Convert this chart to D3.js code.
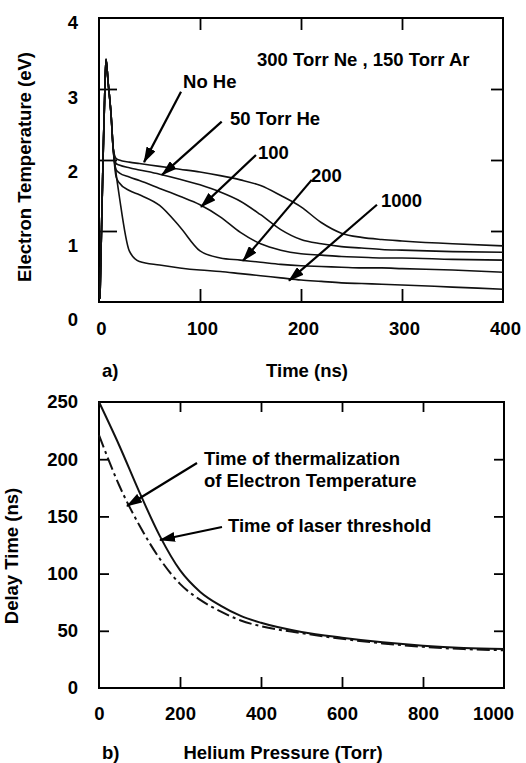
<!DOCTYPE html>
<html><head><meta charset="utf-8">
<script src="https://cdn.jsdelivr.net/npm/d3@7"></script>
<style>
html,body{margin:0;padding:0;background:#fff;}
svg{display:block;}
text{font-family:"Liberation Sans",Arial,Helvetica,sans-serif;font-weight:bold;font-size:18.5px;fill:#000;}
</style></head><body>
<svg id="chart" width="526" height="763"></svg>
<script>
// ---------- Panel a: electron temperature vs time ----------
const timeNs   = [1,4,6,7,9,12,14,17,20,30,40,60,80,100,120,140,160,180,200,220,240,260,280,300,350,400];
const teNoHe   = [0.05,2.0,3.1,3.42,3.1,2.63,2.17,2.02,2.0,1.97,1.95,1.91,1.87,1.83,1.78,1.72,1.64,1.50,1.34,1.12,0.97,0.91,0.88,0.86,0.82,0.79];
const teHe50   = [0.05,2.0,3.1,3.42,3.1,2.63,2.17,1.95,1.93,1.89,1.86,1.80,1.73,1.65,1.55,1.42,1.23,1.02,0.88,0.82,0.78,0.76,0.74,0.73,0.71,0.70];
const teHe100  = [0.05,2.0,3.1,3.42,3.1,2.63,2.17,1.86,1.82,1.76,1.71,1.60,1.49,1.37,1.20,0.98,0.82,0.73,0.68,0.66,0.64,0.63,0.62,0.62,0.60,0.59];
const teHe200  = [0.05,2.0,3.1,3.42,3.1,2.63,2.17,1.76,1.68,1.57,1.51,1.36,1.06,0.72,0.62,0.59,0.56,0.53,0.51,0.50,0.49,0.48,0.48,0.47,0.45,0.42];
const teHe1000 = [0.05,2.0,3.1,3.42,3.1,2.63,2.17,1.80,1.50,0.72,0.57,0.52,0.48,0.45,0.43,0.40,0.37,0.34,0.31,0.29,0.27,0.26,0.25,0.24,0.21,0.18];
const tickTime = [0,100,200,300,400];
const tickTe   = [0,1,2,3,4];

// ---------- Panel b: delay time vs helium pressure ----------
const pressureTorr = [0,50,100,150,200,250,300,350,400,500,600,700,800,900,1000];
const delayLaser   = [250,212,171,133,103,84,72,63,57,49,44,40,37,35,34];
const delayTherm   = [221,177,142,113,91,77,67,59,54,48,43,39,36,34,33];
const tickPressure = [0,200,400,600,800,1000];
const tickDelay    = [0,50,100,150,200,250];

// annotations (data units)
const labelsA = ["300 Torr Ne , 150 Torr Ar","No He","50 Torr He","100","200","1000"];
const labelsAt = [156.4, 83.2, 129.7, 157.4, 209.9, 279.2];
const labelsAv = [3.32, 3.014, 2.493, 2.014, 1.69, 1.338];
const arrowsA = [ // [t0, T0, t1, T1]
  [81.2,2.96,44.6,1.97],
  [121.5,2.54,62.4,1.79],
  [155.4,2.07,101,1.34],
  [210.6,1.72,142.6,0.58],
  [275.2,1.37,188.1,0.30]
];
const labelsB = [["Time of thermalization","of Electron Temperature"],["Time of laser threshold"]];
const labelsBp = [259.3, 318.5];
const labelsBd = [194.5, 136.4];
const arrowsB = [
  [242,196.7,69.1,159.1],
  [303.7,140.7,150.6,129.4]
];

const svg = d3.select("#chart");
const defs = svg.append("defs");
defs.append("marker").attr("id","ah").attr("markerUnits","userSpaceOnUse")
  .attr("markerWidth",16).attr("markerHeight",10).attr("refX",15).attr("refY",5)
  .attr("orient","auto").append("path").attr("d","M0,0 L16,5 L0,10 Z").attr("fill","#000");

// scales
const xA = d3.scaleLinear().domain([0,400]).range([99,503]);
const yA = d3.scaleLinear().domain([0,4]).range([302,18]);
const yALab = d3.scaleLinear().domain([0,4]).range([320,23]);
const xB = d3.scaleLinear().domain([0,1000]).range([99,504]);
const yB = d3.scaleLinear().domain([0,250]).range([688,402]);

function clean(g){ g.select(".domain").remove(); g.selectAll("line").attr("stroke","#000").attr("stroke-width",1.8); }

// ---- Panel a ----
const gA = svg.append("g");
gA.append("rect").attr("x",xA(0)).attr("y",yA(4)).attr("width",xA(400)-xA(0)).attr("height",yA(0)-yA(4))
  .attr("fill","none").attr("stroke","#000").attr("stroke-width",2);
gA.append("g").attr("transform",`translate(${xA(0)},0)`).call(d3.axisLeft(yA).tickValues([1,2,3]).tickSize(-18).tickFormat("")).call(clean);
gA.append("g").attr("transform",`translate(${xA(400)},0)`).call(d3.axisRight(yA).tickValues([1,2,3]).tickSize(-12).tickFormat("")).call(clean);
gA.append("g").attr("transform",`translate(0,${yA(4)})`).call(d3.axisTop(xA).tickValues([100,200,300]).tickSize(-12).tickFormat("")).call(clean);
gA.append("g").attr("transform",`translate(0,${yA(0)})`).call(d3.axisBottom(xA).tickValues([100,200,300]).tickSize(-13).tickFormat("")).call(clean);
gA.append("g").attr("transform",`translate(${xA(0)},0)`).call(d3.axisLeft(yALab).tickValues(tickTe).tickSize(0).tickPadding(21).tickFormat(d3.format("d"))).call(clean);
gA.append("g").attr("transform",`translate(2,${yA(0)})`).call(d3.axisBottom(xA).tickValues(tickTime).tickSize(0).tickPadding(19.5).tickFormat(d3.format("d"))).call(clean);

const lineA = d3.line().x((d,i)=>xA(timeNs[i])).y(d=>yA(d)).curve(d3.curveMonotoneX);
[teNoHe,teHe50,teHe100,teHe200,teHe1000].forEach(s=>{
  gA.append("path").attr("d",lineA(s)).attr("fill","none").attr("stroke","#111").attr("stroke-width",1.6);
});
labelsA.forEach((t,i)=>{
  gA.append("text").attr("x",xA(labelsAt[i])).attr("y",yA(labelsAv[i])).text(t);
});
arrowsA.forEach(a=>{
  gA.append("line").attr("x1",xA(a[0])).attr("y1",yA(a[1])).attr("x2",xA(a[2])).attr("y2",yA(a[3]))
    .attr("stroke","#000").attr("stroke-width",2.2).attr("marker-end","url(#ah)");
});
gA.append("text").attr("x",102).attr("y",377).text("a)");
gA.append("text").attr("x",307).attr("y",377).attr("text-anchor","middle").text("Time (ns)");
gA.append("text").attr("transform","translate(31,167) rotate(-90)").attr("text-anchor","middle").text("Electron Temperature (eV)");

// ---- Panel b ----
const gB = svg.append("g");
gB.append("rect").attr("x",xB(0)).attr("y",yB(250)).attr("width",xB(1000)-xB(0)).attr("height",yB(0)-yB(250))
  .attr("fill","none").attr("stroke","#000").attr("stroke-width",2);
gB.append("g").attr("transform",`translate(${xB(0)},0)`).call(d3.axisLeft(yB).tickValues([50,100,150,200]).tickSize(-10).tickFormat("")).call(clean);
gB.append("g").attr("transform",`translate(${xB(1000)},0)`).call(d3.axisRight(yB).tickValues([50,100,150,200]).tickSize(-10).tickFormat("")).call(clean);
gB.append("g").attr("transform",`translate(0,${yB(250)})`).call(d3.axisTop(xB).tickValues([200,400,600,800]).tickSize(-10).tickFormat("")).call(clean);
gB.append("g").attr("transform",`translate(0,${yB(0)})`).call(d3.axisBottom(xB).tickValues([200,400,600,800]).tickSize(-11).tickFormat("")).call(clean);
gB.append("g").attr("transform",`translate(${xB(0)},0)`).call(d3.axisLeft(yB).tickValues(tickDelay).tickSize(0).tickPadding(21).tickFormat(d3.format("d"))).call(clean);
const bx = gB.append("g").attr("transform",`translate(0,${yB(0)})`).call(d3.axisBottom(xB).tickValues(tickPressure).tickSize(0).tickPadding(18.5).tickFormat(d3.format("d"))).call(clean);
bx.selectAll(".tick").filter(d=>d===1000).select("text").attr("dx",-11);

const lineB = d3.line().x((d,i)=>xB(pressureTorr[i])).y(d=>yB(d)).curve(d3.curveMonotoneX);
gB.append("path").attr("d",lineB(delayLaser)).attr("fill","none").attr("stroke","#111").attr("stroke-width",2);
gB.append("path").attr("d",lineB(delayTherm)).attr("fill","none").attr("stroke","#111").attr("stroke-width",2)
  .attr("stroke-dasharray","13,4,3,4");
labelsB.forEach((lines,i)=>{
  lines.forEach((l,j)=>gB.append("text").attr("x",xB(labelsBp[i])).attr("y",yB(labelsBd[i])+j*21.5).text(l));
});
arrowsB.forEach(a=>{
  gB.append("line").attr("x1",xB(a[0])).attr("y1",yB(a[1])).attr("x2",xB(a[2])).attr("y2",yB(a[3]))
    .attr("stroke","#000").attr("stroke-width",2.2).attr("marker-end","url(#ah)");
});
gB.append("text").attr("x",102).attr("y",759).text("b)");
gB.append("text").attr("x",283).attr("y",759).attr("text-anchor","middle").text("Helium Pressure (Torr)");
gB.append("text").attr("transform","translate(18,556) rotate(-90)").attr("text-anchor","middle").text("Delay Time (ns)");
</script>
</body></html>
